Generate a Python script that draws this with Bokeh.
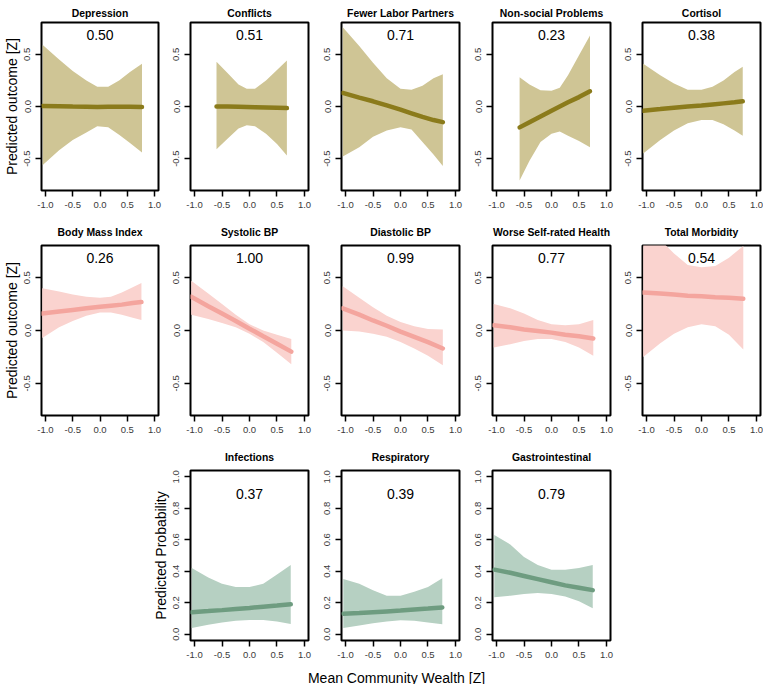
from bokeh.plotting import figure
from bokeh.layouts import column, row, Spacer
from bokeh.models import FixedTicker, NumeralTickFormatter, Label, Range1d
from bokeh.embed import file_html
from bokeh.resources import INLINE

FONT = "Liberation Sans"

# ---------------- data ----------------
x_ticks = [-1.0, -0.5, 0.0, 0.5, 1.0]
z_ticks = [-0.5, 0.0, 0.5]
p_ticks = [0.0, 0.2, 0.4, 0.6, 0.8, 1.0]

titles_row1 = ["Depression", "Conflicts", "Fewer Labor Partners", "Non-social Problems", "Cortisol"]
titles_row2 = ["Body Mass Index", "Systolic BP", "Diastolic BP", "Worse Self-rated Health", "Total Morbidity"]
titles_row3 = ["Infections", "Respiratory", "Gastrointestinal"]
pvals_row1 = ["0.50", "0.51", "0.71", "0.23", "0.38"]
pvals_row2 = ["0.26", "1.00", "0.99", "0.77", "0.54"]
pvals_row3 = ["0.37", "0.39", "0.79"]

dep_x = [-1.05, -0.75, -0.5, -0.25, -0.05, 0.15, 0.35, 0.55, 0.77]
dep_hi = [0.59, 0.45, 0.34, 0.25, 0.19, 0.19, 0.25, 0.33, 0.41]
dep_lo = [-0.56, -0.42, -0.32, -0.25, -0.19, -0.20, -0.27, -0.35, -0.44]
dep_fit = [0.005, 0.003, 0.0, -0.002, -0.004, -0.002, -0.002, -0.003, -0.004]

con_x = [-0.6, -0.4, -0.2, -0.05, 0.1, 0.3, 0.5, 0.68]
con_hi = [0.43, 0.32, 0.21, 0.17, 0.17, 0.25, 0.35, 0.44]
con_lo = [-0.41, -0.31, -0.21, -0.18, -0.19, -0.26, -0.36, -0.47]
con_fit = [0.0, 0.0, -0.002, -0.004, -0.006, -0.009, -0.012, -0.015]

flp_x = [-1.05, -0.75, -0.5, -0.25, 0.0, 0.2, 0.4, 0.6, 0.77]
flp_hi = [0.76, 0.58, 0.42, 0.27, 0.17, 0.16, 0.20, 0.27, 0.31]
flp_lo = [-0.48, -0.39, -0.29, -0.23, -0.20, -0.22, -0.34, -0.46, -0.57]
flp_fit = [0.13, 0.085, 0.05, 0.01, -0.03, -0.065, -0.10, -0.13, -0.15]

nsp_x = [-0.58, -0.4, -0.2, 0.0, 0.15, 0.3, 0.5, 0.7]
nsp_hi = [0.28, 0.21, 0.155, 0.15, 0.18, 0.30, 0.49, 0.68]
nsp_lo = [-0.71, -0.52, -0.34, -0.26, -0.24, -0.28, -0.33, -0.39]
nsp_fit = [-0.20, -0.15, -0.095, -0.04, 0.0, 0.04, 0.09, 0.145]

cor_x = [-1.06, -0.75, -0.5, -0.25, 0.0, 0.2, 0.4, 0.6, 0.75]
cor_hi = [0.41, 0.30, 0.22, 0.16, 0.16, 0.19, 0.25, 0.33, 0.38]
cor_lo = [-0.45, -0.32, -0.23, -0.16, -0.13, -0.13, -0.17, -0.23, -0.28]
cor_fit = [-0.04, -0.025, -0.012, 0.0, 0.01, 0.02, 0.03, 0.04, 0.05]

bmi_x = [-1.06, -0.75, -0.5, -0.25, 0.0, 0.2, 0.4, 0.6, 0.76]
bmi_hi = [0.40, 0.37, 0.34, 0.32, 0.31, 0.32, 0.36, 0.41, 0.45]
bmi_lo = [-0.07, 0.03, 0.09, 0.14, 0.17, 0.17, 0.15, 0.12, 0.10]
bmi_fit = [0.16, 0.18, 0.195, 0.21, 0.225, 0.235, 0.245, 0.26, 0.27]

sys_x = [-1.06, -0.75, -0.5, -0.25, 0.0, 0.25, 0.5, 0.76]
sys_hi = [0.47, 0.35, 0.25, 0.15, 0.06, 0.0, -0.04, -0.08]
sys_lo = [0.15, 0.11, 0.07, 0.03, -0.03, -0.11, -0.21, -0.32]
sys_fit = [0.32, 0.23, 0.16, 0.09, 0.017, -0.055, -0.126, -0.20]

dia_x = [-1.05, -0.75, -0.5, -0.25, 0.0, 0.25, 0.5, 0.77]
dia_hi = [0.42, 0.31, 0.22, 0.14, 0.08, 0.04, 0.015, 0.01]
dia_lo = [0.0, -0.01, -0.03, -0.06, -0.11, -0.17, -0.24, -0.33]
dia_fit = [0.21, 0.15, 0.095, 0.045, -0.01, -0.06, -0.11, -0.17]

wsh_x = [-1.05, -0.75, -0.5, -0.25, 0.0, 0.25, 0.5, 0.76]
wsh_hi = [0.25, 0.21, 0.16, 0.10, 0.06, 0.05, 0.06, 0.10]
wsh_lo = [-0.16, -0.13, -0.10, -0.08, -0.08, -0.11, -0.16, -0.24]
wsh_fit = [0.05, 0.03, 0.01, -0.005, -0.02, -0.04, -0.055, -0.075]

tm_x = [-1.06, -0.75, -0.5, -0.25, 0.0, 0.25, 0.5, 0.76]
tm_hi = [0.97, 0.86, 0.73, 0.62, 0.60, 0.61, 0.69, 0.80]
tm_lo = [-0.25, -0.12, -0.03, 0.03, 0.06, 0.04, -0.04, -0.18]
tm_fit = [0.36, 0.35, 0.34, 0.33, 0.325, 0.315, 0.31, 0.30]

inf_x = [-1.05, -0.75, -0.5, -0.25, 0.0, 0.25, 0.5, 0.75]
inf_hi = [0.42, 0.36, 0.32, 0.30, 0.30, 0.32, 0.38, 0.44]
inf_lo = [0.04, 0.06, 0.075, 0.085, 0.09, 0.09, 0.08, 0.065]
inf_fit = [0.14, 0.147, 0.153, 0.16, 0.167, 0.175, 0.182, 0.19]

res_x = [-1.04, -0.75, -0.5, -0.25, 0.0, 0.25, 0.5, 0.76]
res_hi = [0.35, 0.32, 0.28, 0.245, 0.245, 0.27, 0.30, 0.355]
res_lo = [0.04, 0.055, 0.07, 0.08, 0.088, 0.085, 0.075, 0.063]
res_fit = [0.13, 0.135, 0.14, 0.145, 0.15, 0.157, 0.163, 0.17]

gas_x = [-1.04, -0.75, -0.5, -0.25, 0.0, 0.25, 0.5, 0.75]
gas_hi = [0.63, 0.57, 0.49, 0.44, 0.41, 0.41, 0.42, 0.44]
gas_lo = [0.235, 0.245, 0.255, 0.262, 0.255, 0.24, 0.21, 0.165]
gas_fit = [0.41, 0.39, 0.37, 0.35, 0.33, 0.31, 0.295, 0.28]

x_label = "Mean Community Wealth [Z]"
z_label = "Predicted outcome [Z]"
p_label = "Predicted Probability"

# ---------------- styles ----------------
OLIVE = ("#8B7B1B", "#CFC595")
PINK = ("#F4A59E", "#FAD3CF")
GREEN = ("#6E9C80", "#B6D0C2")

XR = (-1.073, 1.073)
ZR = (-0.805, 0.805)
PR = (-0.04, 1.04)
FW = 118  # frame width


def panel(title, pval, xs, lo, hi, fit, colors, yticks, yrange, ytext,
          left, right, top, bottom, frame_h, standoff, ylab=None):
    p = figure(width=left + FW + right, height=top + frame_h + bottom,
               x_range=XR, y_range=yrange,
               output_backend="svg", toolbar_location=None,
               min_border_left=left, min_border_right=right,
               min_border_top=top, min_border_bottom=bottom,
               background_fill_color="white", border_fill_color="white")
    p.title.text = title
    p.title.align = "center"
    p.title.text_font = FONT
    p.title.text_font_size = "10.4px"
    p.title.text_font_style = "bold"
    p.title.text_color = "black"
    p.title.standoff = standoff
    p.outline_line_color = "black"
    p.outline_line_width = 2
    p.outline_line_alpha = 1
    p.grid.visible = False

    p.varea(x=xs, y1=lo, y2=hi, fill_color=colors[1], fill_alpha=1)
    p.line(x=xs, y=fit, line_color=colors[0], line_width=4.5, line_cap="round")

    p.add_layout(Label(x=0, y=ytext, text=pval, text_align="center",
                       text_baseline="middle", text_font=FONT,
                       text_font_size="14px", text_color="black"))

    p.xaxis.ticker = FixedTicker(ticks=x_ticks)
    p.yaxis.ticker = FixedTicker(ticks=yticks)
    p.xaxis.formatter = NumeralTickFormatter(format="0.0")
    p.yaxis.formatter = NumeralTickFormatter(format="0.0")
    p.yaxis.major_label_orientation = "vertical"
    for ax in (p.xaxis, p.yaxis):
        ax.axis_line_color = None
        ax.major_tick_in = 0
        ax.major_tick_out = 6
        ax.major_tick_line_width = 1.5
        ax.major_tick_line_color = "black"
        ax.minor_tick_line_color = None
        ax.major_label_standoff = 5
        ax.major_label_text_font = FONT
        ax.major_label_text_font_size = "9.5px"
        ax.major_label_text_color = "#3a3a3a"
        ax.axis_label_text_font = FONT
        ax.axis_label_text_font_size = "14px"
        ax.axis_label_text_font_style = "normal"
        ax.axis_label_text_color = "black"
    if ylab:
        p.yaxis.axis_label = ylab
        p.yaxis.axis_label_standoff = 2
    return p


row1_data = [(dep_x, dep_lo, dep_hi, dep_fit), (con_x, con_lo, con_hi, con_fit),
             (flp_x, flp_lo, flp_hi, flp_fit), (nsp_x, nsp_lo, nsp_hi, nsp_fit),
             (cor_x, cor_lo, cor_hi, cor_fit)]
row2_data = [(bmi_x, bmi_lo, bmi_hi, bmi_fit), (sys_x, sys_lo, sys_hi, sys_fit),
             (dia_x, dia_lo, dia_hi, dia_fit), (wsh_x, wsh_lo, wsh_hi, wsh_fit),
             (tm_x, tm_lo, tm_hi, tm_fit)]
row3_data = [(inf_x, inf_lo, inf_hi, inf_fit), (res_x, res_lo, res_hi, res_fit),
             (gas_x, gas_lo, gas_hi, gas_fit)]

# column borders (left, right) so frames sit at x = 40, 190, 341, 492, 642
col_borders = [(40, 4), (28, 5), (28, 5), (28, 5), (27, 3)]

r1 = []
for i, (t, pv, d) in enumerate(zip(titles_row1, pvals_row1, row1_data)):
    l, r = col_borders[i]
    r1.append(panel(t, pv, *d, OLIVE, z_ticks, ZR, 0.69,
                    left=l, right=r, top=22, bottom=26, frame_h=168, standoff=7,
                    ylab=z_label if i == 0 else None))

r2 = []
for i, (t, pv, d) in enumerate(zip(titles_row2, pvals_row2, row2_data)):
    l, r = col_borders[i]
    r2.append(panel(t, pv, *d, PINK, z_ticks, ZR, 0.69,
                    left=l, right=r, top=29, bottom=26, frame_h=170, standoff=15,
                    ylab=z_label if i == 0 else None))

r3 = [Spacer(width=145, height=223)]
row3_borders = [(45, 5), (28, 5), (28, 5)]
for i, (t, pv, d) in enumerate(zip(titles_row3, pvals_row3, row3_data)):
    l, r = row3_borders[i]
    r3.append(panel(t, pv, *d, GREEN, p_ticks, PR, 0.89,
                    left=l, right=r, top=29, bottom=24, frame_h=170, standoff=15,
                    ylab=p_label if i == 0 else None))

# shared x-axis title below the middle bottom panel
xl = figure(width=615, height=20, x_range=Range1d(0, 615), y_range=Range1d(0, 20),
            output_backend="svg", toolbar_location=None,
            x_axis_type=None, y_axis_type=None,
            min_border_left=0, min_border_right=0, min_border_top=0, min_border_bottom=0)
xl.outline_line_color = None
xl.grid.visible = False
xl.add_layout(Label(x=396, y=7, x_units="screen", y_units="screen", text=x_label,
                    text_align="center", text_baseline="middle", text_font=FONT,
                    text_font_size="14px", text_color="black"))

layout = column(row(*r1, spacing=0), row(*r2, spacing=0), row(*r3, spacing=0), xl,
                spacing=0)

open("out.html", "w").write(file_html(layout, INLINE))
